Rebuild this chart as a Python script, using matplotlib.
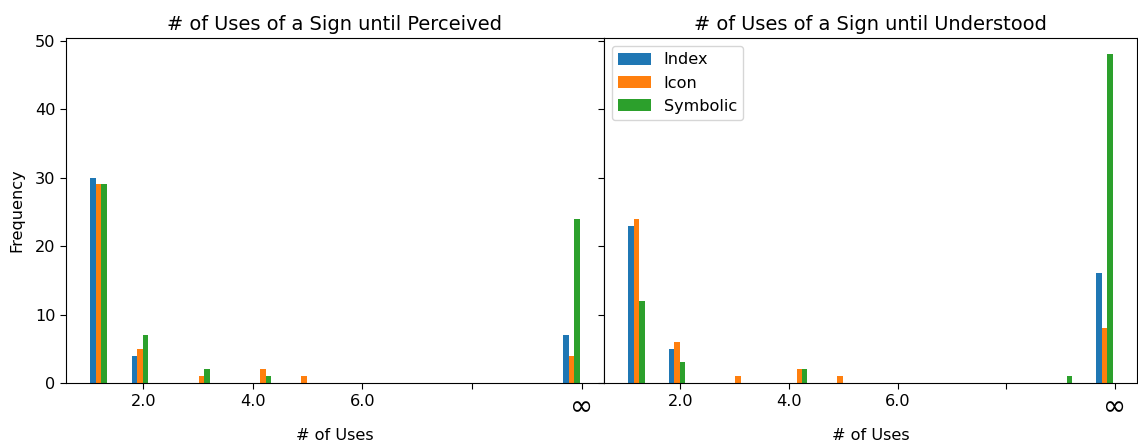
import matplotlib
matplotlib.use("Agg")
import matplotlib.pyplot as plt

# distinct "number of uses" values (infinity shown at 10)
use_values = [1, 2, 3, 4, 5, 9, 10]
series_names = ["Index", "Icon", "Symbolic"]

# counts per value for "Perceived"
perceived_index = [30, 4, 0, 0, 0, 0, 7]
perceived_icon = [29, 5, 1, 2, 1, 0, 4]
perceived_symbolic = [29, 7, 2, 1, 0, 0, 24]

# counts per value for "Understood"
understood_index = [23, 5, 0, 0, 0, 0, 16]
understood_icon = [24, 6, 1, 2, 1, 0, 8]
understood_symbolic = [12, 3, 0, 2, 0, 1, 48]

tick_positions = [2, 4, 6, 8, 10]
tick_labels = ["2.0", "4.0", "6.0", "", "\u221e"]

s = 1.16
plt.rcParams["font.size"] = 10 * s
plt.rcParams["xtick.major.size"] = 3.5 * s
plt.rcParams["ytick.major.size"] = 3.5 * s

W, H = 1138, 447
fig = plt.figure(figsize=(W / 100, H / 100), dpi=100)
ax1 = fig.add_axes([66 / W, (H - 383) / H, 538 / W, 345 / H])
ax2 = fig.add_axes([604 / W, (H - 383) / H, 533 / W, 345 / H], sharey=ax1)

panels = [
    (ax1, [perceived_index, perceived_icon, perceived_symbolic],
     "# of Uses of a Sign until Perceived"),
    (ax2, [understood_index, understood_icon, understood_symbolic],
     "# of Uses of a Sign until Understood"),
]

for ax, counts, title in panels:
    ax.hist([use_values] * 3, weights=counts, bins=24, range=(1, 10),
            label=series_names)
    ax.set_title(title, fontsize=12 * s)
    ax.set_xlabel("# of Uses", labelpad=4 * s)
    ax.set_xticks(tick_positions)
    ax.set_xticklabels(tick_labels)
    for lbl in ax.get_xticklabels():
        if lbl.get_text() == "\u221e":
            lbl.set_fontsize(20)

ax1.set_ylabel("Frequency", labelpad=8)
plt.setp(ax2.get_yticklabels(), visible=False)
ax2.legend(loc="upper left")

fig.savefig("out.png", dpi=100)
